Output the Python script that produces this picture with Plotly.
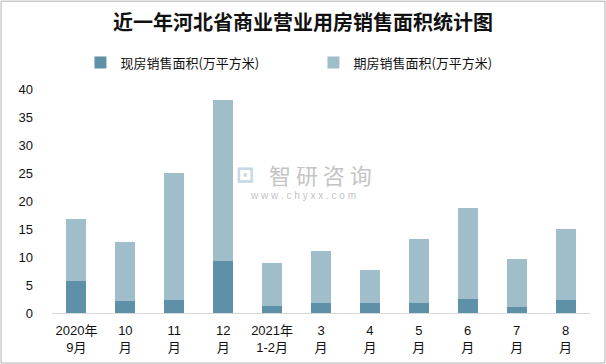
import plotly.graph_objects as go

categories = ["2020年<br>9月", "10<br>月", "11<br>月", "12<br>月", "2021年<br>1-2月",
              "3<br>月", "4<br>月", "5<br>月", "6<br>月", "7<br>月", "8<br>月"]
existing = [5.75, 2.2, 2.4, 9.3, 1.3, 1.85, 1.85, 1.85, 2.55, 1.1, 2.4]
totals = [16.8, 12.7, 25.0, 38.0, 8.95, 11.1, 7.7, 13.2, 18.75, 9.65, 15.0]
presale = [round(t - e, 2) for t, e in zip(totals, existing)]

dark = "#5e91a7"
light = "#a0bdca"
font_family = "Liberation Sans, Noto Sans CJK SC, sans-serif"

fig = go.Figure()
fig.add_trace(go.Bar(x=categories, y=existing, name="现房销售面积(万平方米)",
                     marker=dict(color=dark, line=dict(width=0)), width=0.41))
fig.add_trace(go.Bar(x=categories, y=presale, name="期房销售面积(万平方米)",
                     marker=dict(color=light, line=dict(width=0)), width=0.41))

L, R, T, B = 51.5, 15.5, 88.6, 50.7
pw = 606 - L - R
ph = 364 - T - B

def px(x):
    return (x - L) / pw

def py(y):
    return (364 - B - y) / ph

fig.update_layout(
    width=606, height=364,
    barmode="stack",
    paper_bgcolor="white", plot_bgcolor="white",
    margin=dict(l=L, r=R, t=T, b=B, autoexpand=False),
    font=dict(family=font_family, size=13, color="#111111"),
    title=dict(text="<b>近一年河北省商业营业用房销售面积统计图</b>",
               x=0.5, xanchor="center", y=1 - 23 / 364, yanchor="middle",
               font=dict(family="Noto Sans CJK SC, sans-serif", size=20, color="#111111")),
    showlegend=True,
    legend=dict(orientation="h", x=px(80), xanchor="left", y=py(62), yanchor="middle",
                entrywidth=188, entrywidthmode="pixels",
                font=dict(family="Noto Sans CJK SC, sans-serif", size=13, color="#111111"),
                bgcolor="rgba(0,0,0,0)", traceorder="normal"),
    xaxis=dict(showline=True, linecolor="#d9d9d9", linewidth=1, ticks="",
               tickfont=dict(size=13), showgrid=False, ticklabelstandoff=5),
    yaxis=dict(range=[0, 40], dtick=5, showgrid=False, showline=False, ticks="",
               zeroline=False, ticklabelstandoff=18, tickfont=dict(size=13)),
    annotations=[
        dict(text="智 研 咨 询", xref="paper", yref="paper", x=px(320), y=py(174),
             showarrow=False, font=dict(family="Noto Sans CJK SC, sans-serif", size=22, color="#c4c4c4")),
        dict(text="w w w . c h y x x . c o m", xref="paper", yref="paper", x=px(303), y=py(195),
             showarrow=False, font=dict(family="Liberation Sans, sans-serif", size=10, color="#c4c4c4")),
        dict(text="<b>⊡</b>", xref="paper", yref="paper", x=px(245), y=py(174),
             showarrow=False, font=dict(size=22, color="#c9d6e6")),
    ],
    shapes=[
        dict(type="rect", xref="paper", yref="paper", x0=px(0.5), x1=px(605.5),
             y0=py(363.5), y1=py(0.5), line=dict(color="#b0b0b0", width=1)),
    ],
)

fig.write_html("out.html", config={"displayModeBar": False},
               post_script="document.body.style.margin='0';document.body.style.padding='0';")
